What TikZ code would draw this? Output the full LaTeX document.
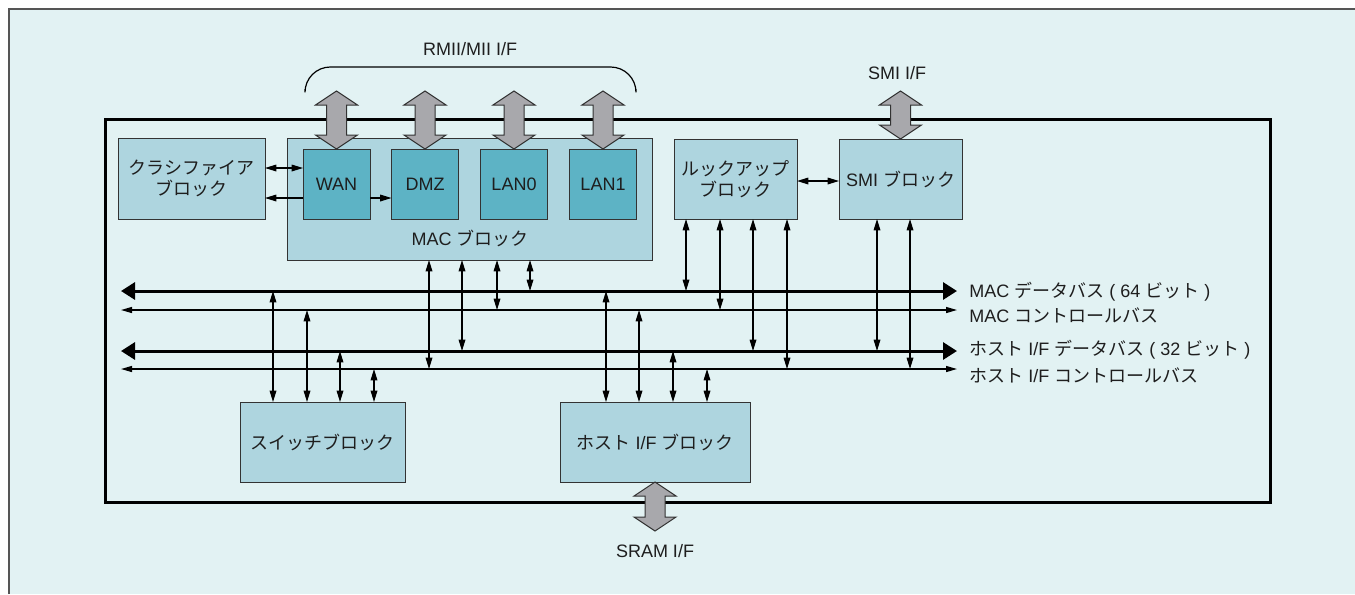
\documentclass[tikz,border=0pt]{standalone}
\usepackage{fontspec}
\setmainfont{Liberation Sans}
\newfontfamily\jpfont{Noto Sans CJK JP}
\newcommand{\jp}[1]{{\jpfont #1}}
\usetikzlibrary{arrows.meta,calc}
\definecolor{bgc}{HTML}{E2F2F3}
\definecolor{bordergray}{HTML}{555555}
\definecolor{blk}{HTML}{AED5DF}
\definecolor{teal1}{HTML}{5DB3C5}
\definecolor{edge}{HTML}{333333}
\definecolor{fatgray}{HTML}{A8A8AC}
\definecolor{txt}{HTML}{1E1E1E}
% wide grey two-way arrow between two points on one vertical line
\newcommand{\fatarrow}[2]{%
  \draw[fat] let \p1=#1, \p2=#2 in
    (\x1,\y1) -- (\x1+15.75pt,\y1-10.5pt) -- (\x1+7.5pt,\y1-10.5pt)
    -- (\x1+7.5pt,\y2+10.5pt) -- (\x1+15.75pt,\y2+10.5pt) -- (\x1,\y2)
    -- (\x1-15.75pt,\y2+10.5pt) -- (\x1-7.5pt,\y2+10.5pt)
    -- (\x1-7.5pt,\y1-10.5pt) -- (\x1-15.75pt,\y1-10.5pt) -- cycle;}
\begin{document}
\begin{tikzpicture}[x=0.75pt,y=-0.75pt,
  every node/.style={font=\fontsize{13.5}{16}\selectfont, text=txt},
  block/.style={draw=edge, line width=0.75pt, fill=blk, inner sep=0pt, outer sep=0pt, align=center},
  port/.style={block, fill=teal1},
  conn/.style={line width=0.9pt, {Triangle[length=8.5pt,width=5pt]}-{Triangle[length=8.5pt,width=5pt]}},
  oneway/.style={line width=0.9pt, -{Triangle[length=8.5pt,width=5pt]}},
  dbus/.style={line width=2.25pt, {Triangle[length=10.5pt,width=12.75pt]}-{Triangle[length=10.5pt,width=12.75pt]}},
  cbus/.style={line width=1pt, {Triangle[length=8.25pt,width=4.5pt]}-{Triangle[length=8.25pt,width=4.5pt]}},
  fat/.style={draw=edge, line width=0.75pt, fill=fatgray, line join=miter},
  buslbl/.style={anchor=west, inner sep=0pt}]
\useasboundingbox (0,0) rectangle (1355,594);

% backdrop
\fill[bgc] (9,9) rectangle (1355,594);
\draw[bordergray, line width=1pt] (9,594) -- (9,9) -- (1355,9);

% chip outline
\draw[line width=2.25pt] (105,119) rectangle (1270,502);

% functional blocks
\node[block, minimum width=110.25pt, minimum height=60.75pt] (cls) at (191.5,178.5)
  {\jp{クラシファイア}\\\jp{ブロック}};
\node[block, minimum width=273.75pt, minimum height=91.5pt] (mac) at (469.5,199) {};
\node (maclbl) at (470,238) {MAC \jp{ブロック}};
\node[port, minimum width=50.25pt, minimum height=52.5pt] (wan)  at (336.5,184) {WAN};
\node[port, minimum width=50.25pt, minimum height=52.5pt] (dmz)  at (425,184) {DMZ};
\node[port, minimum width=50.25pt, minimum height=52.5pt] (lan0) at (514,184) {LAN0};
\node[port, minimum width=50.25pt, minimum height=52.5pt] (lan1) at (603,184) {LAN1};
\node[block, minimum width=92.25pt, minimum height=60pt] (look) at (735.5,179)
  {\jp{ルックアップ}\\\jp{ブロック}};
\node[block, minimum width=92.25pt, minimum height=60pt] (smi) at (900.5,179)
  {SMI \jp{ブロック}};
\node[block, minimum width=123.75pt, minimum height=60pt] (sw) at (322.5,442)
  {\jp{スイッチブロック}};
\node[block, minimum width=142.5pt, minimum height=60pt] (host) at (655,442)
  {\jp{ホスト} I/F \jp{ブロック}};

% external interfaces
\coordinate (rt) at (0,91);
\coordinate (pw)  at (wan.north |- rt);
\coordinate (pd)  at (dmz.north |- rt);
\coordinate (pl0) at (lan0.north |- rt);
\coordinate (pl1) at (lan1.north |- rt);
\coordinate (ps)  at (smi.north |- rt);
\coordinate (sb) at (0,531);
\coordinate (pr)  at (host.south |- sb);
\fatarrow{(pw)}{(wan.north)}
\fatarrow{(pd)}{(dmz.north)}
\fatarrow{(pl0)}{(lan0.north)}
\fatarrow{(pl1)}{(lan1.north)}
\fatarrow{(ps)}{(smi.north)}
\fatarrow{(host.south)}{(pr)}

\draw[line width=0.9pt, rounded corners=19pt] (305,89) -- (305,67) -- (636,67) -- (636,89);
\node (rmii) at (470,49) {RMII/MII I/F};
\node (smiif) at (897,73) {SMI I/F};
\node (sramif) at (655,551) {SRAM I/F};

% local links
\coordinate (r1) at (0,168);
\coordinate (r2) at (0,198);
\coordinate (r3) at (0,181);
\draw[conn] (cls.east |- r1) -- (wan.west |- r1);
\draw[oneway] (wan.west |- r2) -- (cls.east |- r2);
\draw[oneway] (wan.east |- r2) -- (dmz.west |- r2);
\draw[conn] (look.east |- r3) -- (smi.west |- r3);

% buses
\coordinate (b1) at (121,291); \coordinate (b1r) at (957,291);
\coordinate (b2) at (121,310); \coordinate (b2r) at (957,310);
\coordinate (b3) at (121,351); \coordinate (b3r) at (957,351);
\coordinate (b4) at (121,369); \coordinate (b4r) at (957,369);
\draw[dbus] (b1) -- (b1r);
\draw[cbus] (b2) -- (b2r);
\draw[dbus] (b3) -- (b3r);
\draw[cbus] (b4) -- (b4r);
\node[buslbl] (l1) at (969,292) {MAC \jp{データバス} ( 64 \jp{ビット} )};
\node[buslbl] (l2) at (969,315) {MAC \jp{コントロールバス}};
\node[buslbl] (l3) at (969,350) {\jp{ホスト} I/F \jp{データバス} ( 32 \jp{ビット} )};
\node[buslbl] (l4) at (969,375) {\jp{ホスト} I/F \jp{コントロールバス}};

% block-to-bus taps
\foreach \x/\b in {429/b4, 462/b3, 497/b2, 530/b1} {
  \coordinate (col) at (\x,0);
  \draw[conn] (mac.south -| col) -- (\b -| col);
}
\foreach \x/\b in {686/b1, 720/b2, 753/b3, 787/b4} {
  \coordinate (col) at (\x,0);
  \draw[conn] (look.south -| col) -- (\b -| col);
}
\foreach \x/\b in {877/b3, 910/b4} {
  \coordinate (col) at (\x,0);
  \draw[conn] (smi.south -| col) -- (\b -| col);
}
\foreach \x/\b in {273/b1, 307/b2, 340/b3, 374/b4} {
  \coordinate (col) at (\x,0);
  \draw[conn] (\b -| col) -- (sw.north -| col);
}
\foreach \x/\b in {606/b1, 639/b2, 673/b3, 707/b4} {
  \coordinate (col) at (\x,0);
  \draw[conn] (\b -| col) -- (host.north -| col);
}
\end{tikzpicture}
\end{document}
